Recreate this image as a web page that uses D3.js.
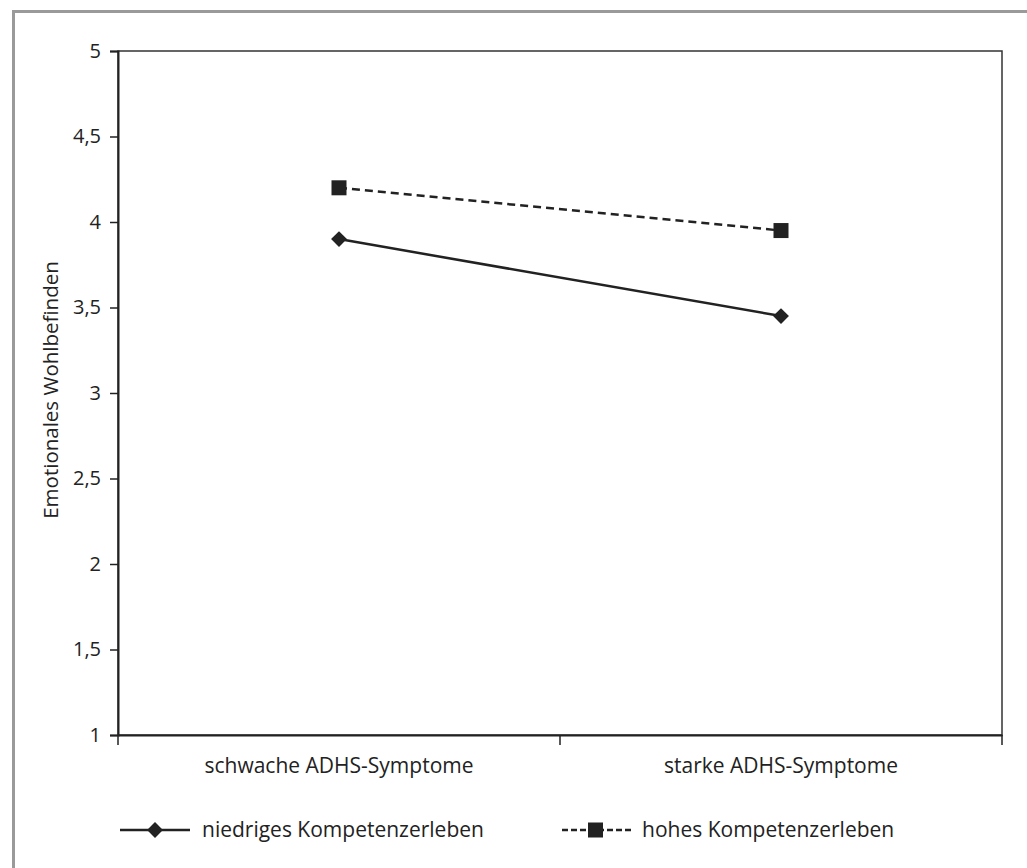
<!DOCTYPE html>
<html>
<head>
<meta charset="utf-8">
<script src="https://d3js.org/d3.v7.min.js"></script>
<style>
  body { margin: 0; background: #fff; }
  svg { display: block; }
  text { font-family: "Open Sans", sans-serif; fill: #222; }
</style>
</head>
<body>
<div id="chart"></div>
<script>
// Data
const categories = ['schwache ADHS-Symptome', 'starke ADHS-Symptome'];
const niedrig = [3.9, 3.45];   // niedriges Kompetenzerleben
const hoch = [4.2, 3.95];      // hohes Kompetenzerleben
const yTicks = [1, 1.5, 2, 2.5, 3, 3.5, 4, 4.5, 5];

const width = 1027, height = 868;
const margin = { top: 51, right: 25, bottom: 133, left: 118 };

const svg = d3.select('#chart').append('svg')
  .attr('width', width)
  .attr('height', height);

// grey frame (left and top edges visible)
svg.append('path')
  .attr('d', `M13.5,${height} V11.5 H${width}`)
  .attr('fill', 'none')
  .attr('stroke', '#9a9a9a')
  .attr('stroke-width', 3);

const x = d3.scaleBand()
  .domain(categories)
  .range([margin.left, width - margin.right])
  .padding(0);

const y = d3.scaleLinear()
  .domain([1, 5])
  .range([height - margin.bottom, margin.top]);

// plot box
svg.append('rect')
  .attr('x', margin.left)
  .attr('y', margin.top)
  .attr('width', width - margin.left - margin.right)
  .attr('height', height - margin.top - margin.bottom)
  .attr('fill', 'none')
  .attr('stroke', '#333')
  .attr('stroke-width', 1.5);

// y axis
const yAxis = svg.append('g')
  .attr('transform', `translate(${margin.left},0)`)
  .call(d3.axisLeft(y).tickValues(yTicks).tickSize(8).tickPadding(9)
    .tickFormat(d => String(d).replace('.', ',')));
yAxis.select('.domain').attr('stroke', '#222').attr('stroke-width', 2);
yAxis.selectAll('.tick line').attr('stroke', '#222').attr('stroke-width', 1.5);
yAxis.selectAll('.tick text').attr('font-size', 20).style('font-family', '"Open Sans", sans-serif').attr('fill', '#222');

// x axis: labels centred in bands, ticks at band edges
const xAxis = svg.append('g')
  .attr('transform', `translate(0,${height - margin.bottom})`)
  .call(d3.axisBottom(x).tickSize(0).tickPadding(23));
xAxis.select('.domain').attr('stroke', '#222').attr('stroke-width', 2);
xAxis.selectAll('.tick text').attr('font-size', 21).style('font-family', '"Open Sans", sans-serif').attr('fill', '#222');

const edges = [x(categories[0]), ...categories.map(c => x(c) + x.bandwidth())];
xAxis.selectAll('.edge')
  .data(edges)
  .enter().append('line')
  .attr('class', 'edge')
  .attr('x1', d => d).attr('x2', d => d)
  .attr('y1', 0).attr('y2', 10)
  .attr('stroke', '#222')
  .attr('stroke-width', 1.5);

// y axis title
svg.append('text')
  .attr('transform', `translate(58,390) rotate(-90)`)
  .attr('text-anchor', 'middle')
  .attr('font-size', 20.5)
  .text('Emotionales Wohlbefinden');

const cx = c => x(c) + x.bandwidth() / 2;
const line = d3.line().x((d, i) => cx(categories[i])).y(d => y(d));

// hohes Kompetenzerleben (dashed, squares)
svg.append('path')
  .datum(hoch)
  .attr('d', line)
  .attr('fill', 'none')
  .attr('stroke', '#222')
  .attr('stroke-width', 2.5)
  .attr('stroke-dasharray', '8,5');

svg.selectAll('.sq')
  .data(hoch)
  .enter().append('rect')
  .attr('class', 'sq')
  .attr('x', (d, i) => cx(categories[i]) - 7.5)
  .attr('y', d => y(d) - 7.5)
  .attr('width', 15)
  .attr('height', 15)
  .attr('fill', '#222');

// niedriges Kompetenzerleben (solid, diamonds)
svg.append('path')
  .datum(niedrig)
  .attr('d', line)
  .attr('fill', 'none')
  .attr('stroke', '#222')
  .attr('stroke-width', 2.5);

const diamond = d3.symbol().type(d3.symbolDiamond2).size(160);
svg.selectAll('.dm')
  .data(niedrig)
  .enter().append('path')
  .attr('class', 'dm')
  .attr('d', diamond)
  .attr('transform', (d, i) => `translate(${cx(categories[i])},${y(d)})`)
  .attr('fill', '#222');

// legend
const legendY = 830;
const lg1 = svg.append('g').attr('transform', `translate(120,${legendY})`);
lg1.append('line').attr('x1', 0).attr('x2', 70).attr('y1', 0).attr('y2', 0)
  .attr('stroke', '#222').attr('stroke-width', 2.5);
lg1.append('path').attr('d', diamond).attr('transform', 'translate(35,0)').attr('fill', '#222');
lg1.append('text').attr('x', 82).attr('y', 7).attr('font-size', 21).text('niedriges Kompetenzerleben');

const lg2 = svg.append('g').attr('transform', `translate(562,${legendY})`);
lg2.append('line').attr('x1', 0).attr('x2', 70).attr('y1', 0).attr('y2', 0)
  .attr('stroke', '#222').attr('stroke-width', 2.5).attr('stroke-dasharray', '6,3');
lg2.append('rect').attr('x', 26).attr('y', -7.5).attr('width', 15).attr('height', 15).attr('fill', '#222');
lg2.append('text').attr('x', 80).attr('y', 7).attr('font-size', 21).text('hohes Kompetenzerleben');
</script>
</body>
</html>
